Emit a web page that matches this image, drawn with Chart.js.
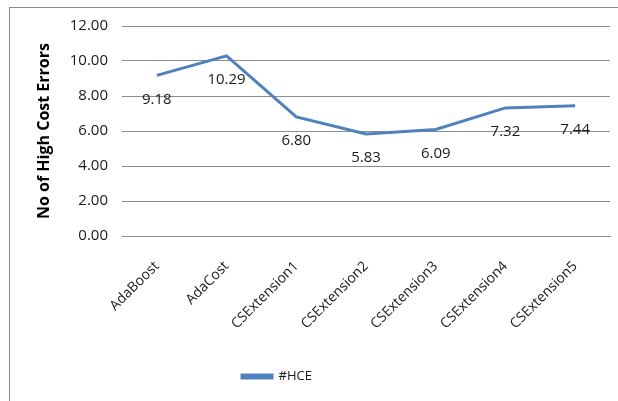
<!DOCTYPE html>
<html>
<head>
<meta charset="utf-8">
<script src="https://cdn.jsdelivr.net/npm/chart.js@4"></script>
<style>
html,body{margin:0;padding:0;background:#fff;}
#wrap{position:relative;width:618px;height:401px;}
#frame{position:absolute;left:9px;top:7px;right:0;bottom:0;border-left:1px solid #8a8a8a;border-top:1px solid #8a8a8a;pointer-events:none;}
canvas{position:absolute;left:0;top:0;}
</style>
</head>
<body>
<div id="wrap"><canvas id="c" width="618" height="401"></canvas><div id="frame"></div></div>
<script>
const categories = ["AdaBoost","AdaCost","CSExtension1","CSExtension2","CSExtension3","CSExtension4","CSExtension5"];
const hceValues = [9.18, 10.29, 6.80, 5.83, 6.09, 7.32, 7.44];
const seriesName = "#HCE";
const yTitle = "No of High Cost Errors";
const yMin = 0, yMax = 12, yStep = 2;

const FONT = "'Open Sans', 'Liberation Sans', sans-serif";
const lineColor = "#4F81BD";
const gridColor = "#8c8c8c";

const dataLabels = {
  id: 'dataLabels',
  afterDatasetsDraw(chart) {
    const ctx = chart.ctx;
    const meta = chart.getDatasetMeta(0);
    ctx.save();
    ctx.font = "15px " + FONT;
    ctx.fillStyle = "#1a1a1a";
    ctx.textAlign = "center";
    ctx.textBaseline = "middle";
    meta.data.forEach((pt, i) => {
      ctx.fillText(hceValues[i].toFixed(2), pt.x, pt.y + 24);
    });
    ctx.restore();
  }
};

const legendShift = {
  id: 'legendShift',
  afterLayout(chart) {
    const lg = chart.legend;
    if (lg) { lg.left -= 56; }
  }
};

new Chart(document.getElementById('c'), {
  type: 'line',
  data: {
    labels: categories,
    datasets: [{
      label: seriesName,
      data: hceValues,
      borderColor: lineColor,
      backgroundColor: lineColor,
      borderWidth: 3,
      pointRadius: 0,
      tension: 0,
      fill: false
    }]
  },
  options: {
    responsive: false,
    animation: false,
    devicePixelRatio: 1,
    layout: { padding: { left: 0, right: 8, top: 26, bottom: 8 } },
    plugins: {
      tooltip: { enabled: false },
      legend: {
        position: 'bottom',
        labels: {
          boxWidth: 30,
          boxHeight: 3,
          padding: 10,
          color: '#1a1a1a',
          font: { family: FONT, size: 13 }
        }
      }
    },
    scales: {
      x: {
        offset: true,
        grid: { display: false, drawTicks: false },
        border: { display: true, color: gridColor },
        ticks: {
          minRotation: 45, maxRotation: 45,
          padding: 22,
          color: '#1a1a1a',
          font: { family: FONT, size: 14 }
        },
        afterFit(scale) { scale.height = 124; }
      },
      y: {
        min: yMin, max: yMax,
        grid: { color: gridColor, drawTicks: false },
        border: { display: false },
        ticks: {
          stepSize: yStep,
          padding: 14,
          color: '#1a1a1a',
          font: { family: FONT, size: 15 },
          callback: v => Number(v).toFixed(2)
        },
        title: {
          display: true,
          text: yTitle,
          color: '#000',
          padding: { top: 35, bottom: 0 },
          font: { family: FONT, size: 16, weight: 'bold' }
        },
        afterFit(scale) { scale.width = 122; }
      }
    }
  },
  plugins: [dataLabels, legendShift]
});
</script>
</body>
</html>
